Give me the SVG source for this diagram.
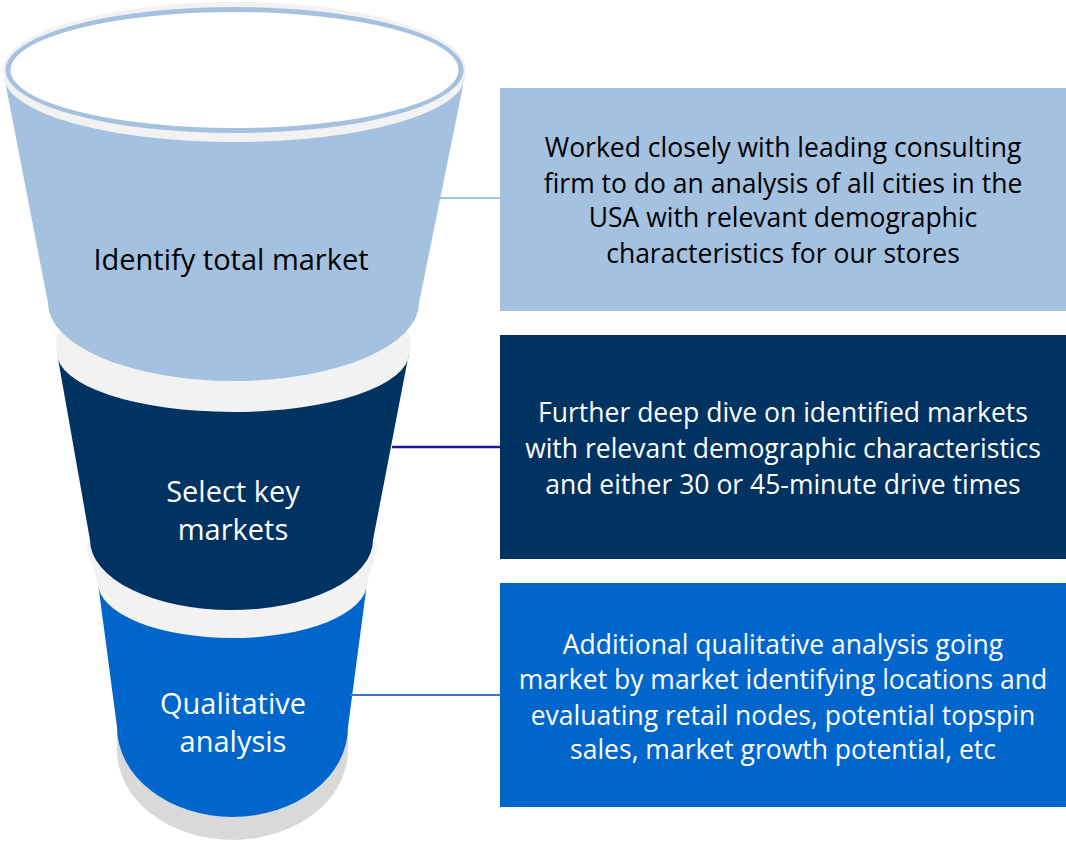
<svg xmlns="http://www.w3.org/2000/svg" width="1066" height="842" viewBox="0 0 1066 842">
  <style>
    .lid { fill: #f2f2f2; }
    .shadow { fill: #d9d9d9; }
    .lt { fill: #a4c2e0; }
    .nv { fill: #003262; }
    .bl { fill: #0066cc; }
    .lbl { font-family: "Open Sans", "Liberation Sans", sans-serif; font-size: 29px; text-anchor: middle; }
    .desc { font-family: "Open Sans", "Liberation Sans", sans-serif; font-size: 26.5px; text-anchor: middle; }
    .dark { fill: #000000; }
    .light { fill: #ffffff; }
    .conn { fill: none; }
  </style>

  <!-- bottom tier: Qualitative analysis -->
  <g id="tier-qualitative">
    <path class="shadow" d="M117,727 L117,750 A115.5,90 0 0 0 348,750 L348,727 Z"/>
    <ellipse class="lid" cx="232" cy="548" rx="145" ry="60"/>
    <path class="lid" d="M87,548 L98,583 A134.5,55 0 0 0 367,583 L377,548 Z"/>
    <path class="bl" d="M98,583 A134.5,55 0 0 0 367,583 L348,727 A115.5,90 0 0 1 117,727 Z"/>
    <text class="lbl light" x="233" y="714">Qualitative</text>
    <text class="lbl light" x="233" y="752">analysis</text>
  </g>

  <!-- middle tier: Select key markets -->
  <g id="tier-select">
    <ellipse class="lid" cx="233.5" cy="343" rx="177.5" ry="60"/>
    <path class="lid" d="M56,343 L57,353 A176,59 0 0 0 409,353 L411,343 Z"/>
    <path class="nv" d="M57,353 A176,59 0 0 0 409,353 L373,540 A141.5,70 0 0 1 90,540 Z"/>
    <text class="lbl light" x="233" y="502">Select key</text>
    <text class="lbl light" x="233" y="540">markets</text>
  </g>

  <!-- top tier: Identify total market -->
  <g id="tier-identify">
    <ellipse class="lid" cx="234.5" cy="70" rx="231.5" ry="68"/>
    <path class="lid" d="M3,70 L4,76 A230.5,66 0 0 0 465,76 L466,70 Z"/>
    <path class="lt" d="M4,76 A230.5,66 0 0 0 465,76 L419,303 A185.5,78 0 0 1 48,303 Z"/>
    <ellipse class="lt" cx="234.5" cy="70" rx="229" ry="63"/>
    <ellipse fill="#ffffff" cx="234.5" cy="70" rx="224" ry="58"/>
    <text class="lbl dark" x="231" y="270">Identify total market</text>
  </g>

  <!-- leader lines from tiers to description panels -->
  <g id="connectors">
    <line class="conn" x1="440" y1="198" x2="500" y2="198" stroke="#a4c2e8" stroke-width="2"/>
    <line class="conn" x1="392" y1="447" x2="500" y2="447" stroke="#1f129c" stroke-width="2.5"/>
    <line class="conn" x1="350" y1="695" x2="500" y2="695" stroke="#4472c4" stroke-width="2"/>
  </g>

  <!-- description panels -->
  <g id="panel-identify">
    <rect class="lt" x="500" y="88" width="566" height="223"/>
    <text class="desc dark" x="783" y="157">Worked closely with leading consulting</text>
    <text class="desc dark" x="783" y="193">firm to do an analysis of all cities in the</text>
    <text class="desc dark" x="783" y="227">USA with relevant demographic</text>
    <text class="desc dark" x="783" y="263">characteristics for our stores</text>
  </g>

  <g id="panel-select">
    <rect class="nv" x="500" y="335" width="566" height="224"/>
    <text class="desc light" x="783" y="422">Further deep dive on identified markets</text>
    <text class="desc light" x="783" y="458">with relevant demographic characteristics</text>
    <text class="desc light" x="783" y="494">and either 30 or 45-minute drive times</text>
  </g>

  <g id="panel-qualitative">
    <rect class="bl" x="500" y="583" width="566" height="224"/>
    <text class="desc light" x="783" y="654">Additional qualitative analysis going</text>
    <text class="desc light" x="783" y="689">market by market identifying locations and</text>
    <text class="desc light" x="783" y="725">evaluating retail nodes, potential topspin</text>
    <text class="desc light" x="783" y="759">sales, market growth potential, etc</text>
  </g>
</svg>
